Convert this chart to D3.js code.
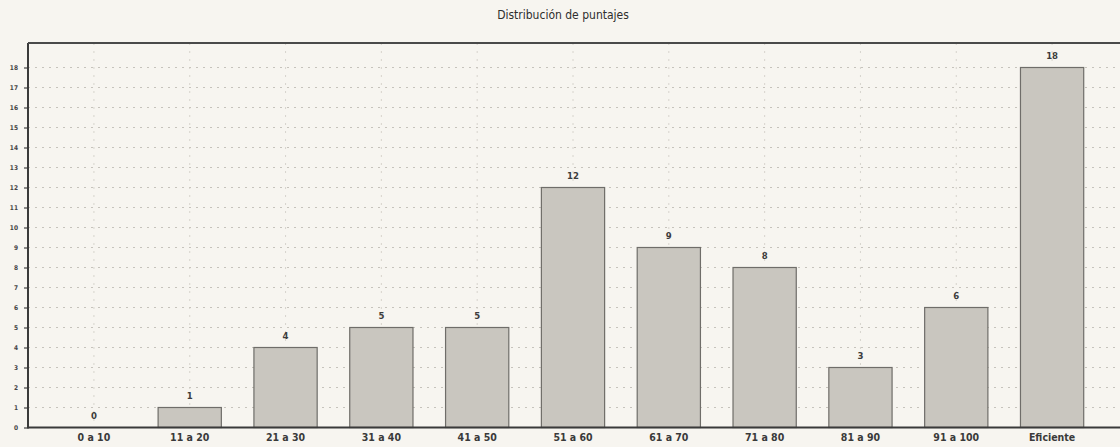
<!DOCTYPE html>
<html>
<head>
<meta charset="utf-8">
<script src="https://cdn.jsdelivr.net/npm/d3@7"></script>
<style>
  html, body { margin: 0; padding: 0; background: #f7f5f0; }
  svg { display: block; }
  text { font-family: "DejaVu Sans Condensed", "Liberation Sans Narrow", "Liberation Sans", Arial, sans-serif; fill: #333; }
</style>
</head>
<body>
<svg id="chart" width="1120" height="447"></svg>
<script>
// Score distribution: number of results per score range
const categories = ["0 a 10", "11 a 20", "21 a 30", "31 a 40", "41 a 50", "51 a 60",
                    "61 a 70", "71 a 80", "81 a 90", "91 a 100", "Eficiente"];
const counts = [0, 1, 4, 5, 5, 12, 9, 8, 3, 6, 18];
const yTicks = d3.range(0, 19);
const title = "Distribución de puntajes";

const plot = { left: 28, right: 1120, top: 43, bottom: 427.5 };

const svg = d3.select("#chart");

const x = d3.scaleBand()
  .domain(categories)
  .range([46, 1100])
  .paddingInner(0.34)
  .paddingOuter(0.17);

const y = d3.scaleLinear()
  .domain([0, 18])
  .range([plot.bottom, 67.5]);

// Title
svg.append("text")
  .attr("x", 563).attr("y", 19)
  .attr("text-anchor", "middle")
  .style("font-size", "12px")
  .style("fill", "#2e2e2e")
  .text(title);

// Dotted horizontal grid lines at every unit
svg.append("g")
  .selectAll("line")
  .data(yTicks.filter(d => d > 0))
  .join("line")
  .attr("x1", plot.left).attr("x2", plot.right)
  .attr("y1", d => y(d)).attr("y2", d => y(d))
  .attr("stroke", "#b9b6ae")
  .attr("stroke-width", 0.8)
  .attr("stroke-dasharray", "2,5");

// Faint dotted vertical guides at category centres
svg.append("g")
  .selectAll("line")
  .data(categories)
  .join("line")
  .attr("x1", d => x(d) + x.bandwidth() / 2)
  .attr("x2", d => x(d) + x.bandwidth() / 2)
  .attr("y1", plot.top).attr("y2", plot.bottom)
  .attr("stroke", "#cfccc4")
  .attr("stroke-width", 0.8)
  .attr("stroke-dasharray", "2,6");

// Bars
svg.append("g")
  .selectAll("rect")
  .data(categories.map((c, i) => ({ c, v: counts[i] })).filter(d => d.v > 0))
  .join("rect")
  .attr("x", d => x(d.c))
  .attr("y", d => y(d.v))
  .attr("width", x.bandwidth())
  .attr("height", d => y(0) - y(d.v))
  .attr("fill", "#c9c6bf")
  .attr("stroke", "#6f6d69")
  .attr("stroke-width", 1.2);

// Value labels
svg.append("g")
  .selectAll("text")
  .data(categories.map((c, i) => ({ c, v: counts[i] })))
  .join("text")
  .attr("x", d => x(d.c) + x.bandwidth() / 2)
  .attr("y", d => y(d.v) - 9)
  .attr("text-anchor", "middle")
  .style("font-size", "9.5px")
  .style("font-weight", "bold")
  .style("fill", "#3c3c3c")
  .text(d => d.v);

// Y axis
const yAxis = d3.axisLeft(y).tickValues(yTicks).tickSize(4).tickPadding(6);
const gy = svg.append("g").attr("transform", `translate(${plot.left},0)`).call(yAxis);
gy.select(".domain").remove();
gy.selectAll(".tick line").attr("stroke", "#444").attr("stroke-width", 1.2);
gy.selectAll(".tick text")
  .style("font-size", "6.5px")
  .style("font-weight", "bold")
  .style("fill", "#444")
  .attr("font-family", null);

// X axis labels
const xAxis = d3.axisBottom(x).tickSize(0).tickPadding(6);
const gx = svg.append("g").attr("transform", `translate(0,${plot.bottom})`).call(xAxis);
gx.select(".domain").remove();
gx.selectAll(".tick text")
  .style("font-size", "10.5px")
  .style("font-weight", "bold")
  .style("fill", "#3a3a3a")
  .attr("font-family", null);

// Frame lines: left axis, bottom axis, top border
svg.append("line")
  .attr("x1", plot.left).attr("x2", plot.left)
  .attr("y1", plot.top).attr("y2", plot.bottom + 1)
  .attr("stroke", "#3a3a3a").attr("stroke-width", 2);
svg.append("line")
  .attr("x1", plot.left).attr("x2", plot.right)
  .attr("y1", plot.bottom).attr("y2", plot.bottom)
  .attr("stroke", "#3a3a3a").attr("stroke-width", 2);
svg.append("line")
  .attr("x1", plot.left).attr("x2", plot.right)
  .attr("y1", plot.top).attr("y2", plot.top)
  .attr("stroke", "#4a4a4a").attr("stroke-width", 2);
</script>
</body>
</html>
